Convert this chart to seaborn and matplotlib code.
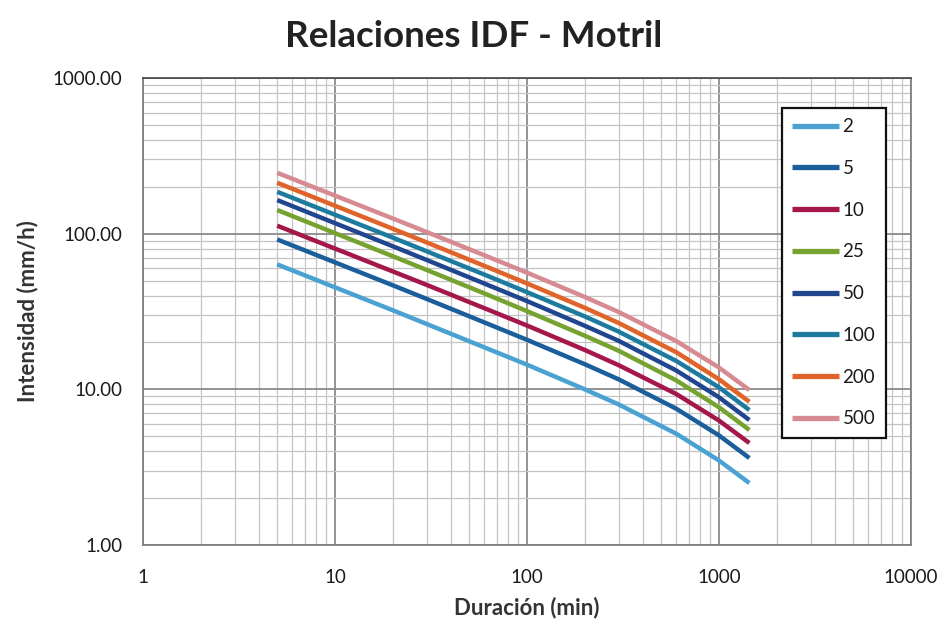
import matplotlib
matplotlib.use("Agg")
import matplotlib.pyplot as plt
from matplotlib.ticker import LogLocator, FixedLocator, FixedFormatter, NullFormatter
import numpy as np
import pandas as pd
import seaborn as sns

# Durations (min) at which intensities were tabulated
duraciones = [5, 10, 20, 30, 60, 100, 200, 300, 600, 1000, 1440]

# Return periods (years)
periodos = ["2", "5", "10", "25", "50", "100", "200", "500"]

# Rainfall intensity (mm/h) for each return period
i_2 = [63.5, 45.2, 32.2, 26.3, 18.6, 14.4, 10.0, 8.0, 5.18, 3.49, 2.50]
i_5 = [91.8, 65.4, 46.6, 38.1, 26.9, 20.8, 14.5, 11.6, 7.50, 5.06, 3.62]
i_10 = [112.5, 80.2, 57.2, 46.9, 33.2, 25.7, 17.9, 14.3, 9.32, 6.30, 4.52]
i_25 = [141.9, 100.8, 71.6, 58.5, 41.3, 31.8, 22.1, 17.7, 11.4, 7.67, 5.48]
i_50 = [164.4, 116.8, 83.0, 67.8, 47.8, 36.9, 25.6, 20.5, 13.2, 8.89, 6.35]
i_100 = [185.8, 132.3, 94.3, 77.1, 54.6, 42.1, 29.4, 23.5, 15.2, 10.3, 7.36]
i_200 = [212.3, 151.1, 107.5, 87.9, 62.1, 47.9, 33.4, 26.7, 17.3, 11.6, 8.32]
i_500 = [246.0, 175.5, 125.2, 102.5, 72.6, 56.2, 39.2, 31.4, 20.4, 13.8, 9.9]

series = [i_2, i_5, i_10, i_25, i_50, i_100, i_200, i_500]

colores = ["#4aa2d2", "#1b5e9c", "#a5164a", "#76a230",
           "#20468f", "#1d7ba0", "#e0632a", "#d68b93"]

x_ticks = [1, 10, 100, 1000, 10000]
x_ticklabels = ["1", "10", "100", "1000", "10000"]
y_ticks = [1, 10, 100, 1000]
y_ticklabels = ["1.00", "10.00", "100.00", "1000.00"]

df = pd.DataFrame({
    "Duración": np.tile(duraciones, len(periodos)),
    "Intensidad": np.concatenate(series),
    "T": np.repeat(periodos, len(duraciones)),
})

sns.set_style("white")
plt.rcParams["font.family"] = ["Lato", "DejaVu Sans"]

fig = plt.figure(figsize=(9.44, 6.23), dpi=100, facecolor="white")
ax = fig.add_axes([0.1515, 0.1252, 0.8135, 0.7496])

sns.lineplot(data=df, x="Duración", y="Intensidad", hue="T",
             hue_order=periodos, palette=dict(zip(periodos, colores)),
             linewidth=3.2, ax=ax, legend=True, sort=True,
             solid_capstyle="butt", solid_joinstyle="round")

ax.set_xscale("log")
ax.set_yscale("log")
ax.set_xlim(1, 10000)
ax.set_ylim(1, 1000)

ax.xaxis.set_major_locator(FixedLocator(x_ticks))
ax.xaxis.set_major_formatter(FixedFormatter(x_ticklabels))
ax.yaxis.set_major_locator(FixedLocator(y_ticks))
ax.yaxis.set_major_formatter(FixedFormatter(y_ticklabels))
ax.xaxis.set_minor_locator(LogLocator(base=10, subs=np.arange(2, 10), numticks=20))
ax.yaxis.set_minor_locator(LogLocator(base=10, subs=np.arange(2, 10), numticks=20))
ax.xaxis.set_minor_formatter(NullFormatter())
ax.yaxis.set_minor_formatter(NullFormatter())

ax.grid(which="major", color="#8a8a8a", linewidth=1.3)
ax.grid(which="minor", color="#c4c4c4", linewidth=0.9)
ax.set_axisbelow(True)

for s in ax.spines.values():
    s.set_color("#7a7a7a")
    s.set_linewidth(1.2)
ax.spines["top"].set_color("#444444")

ax.tick_params(axis="both", which="major", direction="inout", length=8,
               width=1.0, color="#7a7a7a", labelsize=13.5, labelcolor="#1a1a1a")
ax.tick_params(axis="both", which="minor", direction="in", length=4,
               width=0.8, color="#9a9a9a")
ax.tick_params(axis="x", which="major", pad=13)
ax.tick_params(axis="y", which="major", pad=11)

ax.set_xlabel("Duración (min)", fontsize=16, fontweight="bold",
              color="#333333", labelpad=8)
ax.set_ylabel("Intensidad (mm/h)", fontsize=16, fontweight="bold",
              color="#333333", labelpad=10)
fig.text(0.502, 0.942, "Relaciones IDF - Motril", ha="center", va="center",
         fontsize=26.5, fontweight="bold", color="#222222")

leg = ax.legend(loc="upper right", bbox_to_anchor=(0.967, 0.936),
                frameon=True, fancybox=False, framealpha=1, edgecolor="#111111",
                fontsize=13.5, handlelength=2.5, handletextpad=0.2,
                labelspacing=1.32, borderpad=0.55, borderaxespad=0)
leg.get_frame().set_linewidth(1.6)
for h in leg.get_lines():
    h.set_linewidth(3.8)
for t in leg.get_texts():
    t.set_color("#1a1a1a")

fig.savefig("out.png", dpi=100, facecolor="white")
